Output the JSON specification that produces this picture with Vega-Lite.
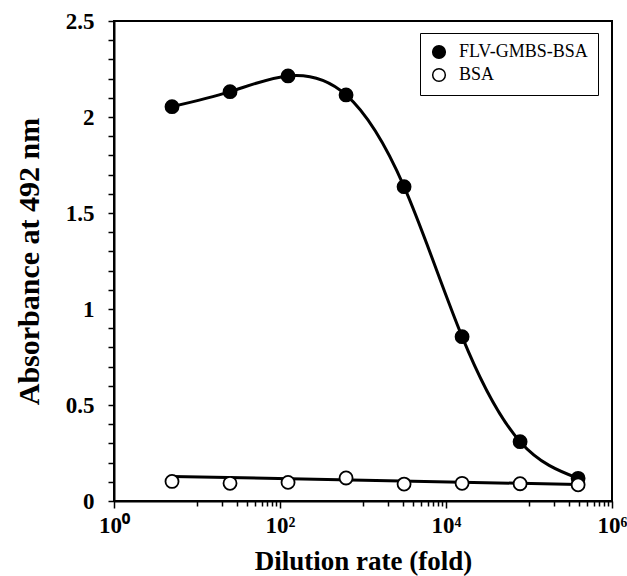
{
  "$schema": "https://vega.github.io/schema/vega-lite/v6.json",
  "width": 498,
  "height": 480,
  "autosize": "none",
  "padding": {"left": 114, "top": 21, "right": 15, "bottom": 75},
  "background": "white",
  "datasets": {
    "pts": [
      {"dilution": 5, "absorbance": 2.054, "sample": "FLV-GMBS-BSA"},
      {"dilution": 25, "absorbance": 2.132, "sample": "FLV-GMBS-BSA"},
      {"dilution": 125, "absorbance": 2.214, "sample": "FLV-GMBS-BSA"},
      {"dilution": 625, "absorbance": 2.115, "sample": "FLV-GMBS-BSA"},
      {"dilution": 3125, "absorbance": 1.637, "sample": "FLV-GMBS-BSA"},
      {"dilution": 15625, "absorbance": 0.856, "sample": "FLV-GMBS-BSA"},
      {"dilution": 78125, "absorbance": 0.309, "sample": "FLV-GMBS-BSA"},
      {"dilution": 390625, "absorbance": 0.118, "sample": "FLV-GMBS-BSA"},
      {"dilution": 5, "absorbance": 0.102, "sample": "BSA"},
      {"dilution": 25, "absorbance": 0.092, "sample": "BSA"},
      {"dilution": 125, "absorbance": 0.097, "sample": "BSA"},
      {"dilution": 625, "absorbance": 0.12, "sample": "BSA"},
      {"dilution": 3125, "absorbance": 0.088, "sample": "BSA"},
      {"dilution": 15625, "absorbance": 0.092, "sample": "BSA"},
      {"dilution": 78125, "absorbance": 0.09, "sample": "BSA"},
      {"dilution": 390625, "absorbance": 0.084, "sample": "BSA"}
    ],
    "fit": [
      {"dilution": 5, "absorbance": 0.128},
      {"dilution": 390625, "absorbance": 0.086}
    ]
  },
  "encoding": {
    "x": {
      "field": "dilution",
      "type": "quantitative",
      "scale": {"type": "log", "domain": [1, 1000000], "nice": false},
      "axis": {
        "title": "Dilution rate (fold)",
        "values": [1,10,20,30,40,50,60,70,80,90,100,1000,2000,3000,4000,5000,6000,7000,8000,9000,10000,100000,200000,300000,400000,500000,600000,700000,800000,900000,1000000],
        "labelExpr": "datum.value == 1 ? '10⁰' : datum.value == 100 ? '10²' : datum.value == 10000 ? '10⁴' : datum.value == 1000000 ? '10⁶' : ''",
        "tickSize": {"condition": {"test": "datum.value == 1 || datum.value == 100 || datum.value == 10000 || datum.value == 1000000", "value": 7}, "value": 5},
        "labelPadding": 6,
        "titlePadding": 11
      }
    },
    "y": {
      "field": "absorbance",
      "type": "quantitative",
      "scale": {"domain": [0, 2.5], "nice": false, "zero": false},
      "axis": {
        "title": "Absorbance at 492 nm",
        "titleFontSize": 30,
        "values": [0,0.1,0.2,0.3,0.4,0.5,0.6,0.7,0.8,0.9,1,1.1,1.2,1.3,1.4,1.5,1.6,1.7,1.8,1.9,2,2.1,2.2,2.3,2.4,2.5],
        "labelExpr": "indexof([0,0.5,1,1.5,2,2.5], datum.value) >= 0 ? format(datum.value, '~g') : ''",
        "tickSize": 6,
        "labelPadding": 14,
        "titlePadding": 21
      }
    }
  },
  "layer": [
    {
      "data": {"name": "pts"},
      "transform": [{"filter": "datum.sample == 'FLV-GMBS-BSA'"}],
      "mark": {"type": "line", "interpolate": "natural", "color": "black", "strokeWidth": 3}
    },
    {
      "data": {"name": "fit"},
      "mark": {"type": "line", "color": "black", "strokeWidth": 3}
    },
    {
      "data": {"name": "pts"},
      "mark": {"type": "point", "shape": "circle", "filled": true, "size": 170, "stroke": "black", "strokeWidth": 1.8, "opacity": 1},
      "encoding": {
        "fill": {
          "field": "sample",
          "type": "nominal",
          "scale": {"domain": ["FLV-GMBS-BSA", "BSA"], "range": ["black", "white"]},
          "legend": {
            "title": null,
            "orient": "none",
            "legendX": 306,
            "legendY": 12,
            "strokeColor": "black",
            "padding": 10,
            "rowPadding": 3,
            "symbolSize": 160,
            "symbolStrokeColor": "black",
            "symbolStrokeWidth": 1.5,
            "symbolType": "circle",
            "labelFont": "Liberation Serif",
            "labelFontSize": 18,
            "labelColor": "black",
            "labelOffset": 11
          }
        }
      }
    }
  ],
  "config": {
    "view": {"stroke": "black", "strokeWidth": 2},
    "legend": {"labelFont": "Liberation Serif"},
    "axis": {
      "grid": false,
      "domainColor": "black",
      "domainWidth": 2,
      "tickColor": "black",
      "tickWidth": 1.5,
      "labelFont": "Liberation Serif",
      "labelFontWeight": "bold",
      "labelFontSize": 23,
      "labelColor": "black",
      "titleFont": "Liberation Serif",
      "titleFontWeight": "bold",
      "titleFontSize": 27,
      "titleColor": "black",
      "labelOverlap": false,
      "labelBound": false,
      "labelFlush": false
    }
  }
}
